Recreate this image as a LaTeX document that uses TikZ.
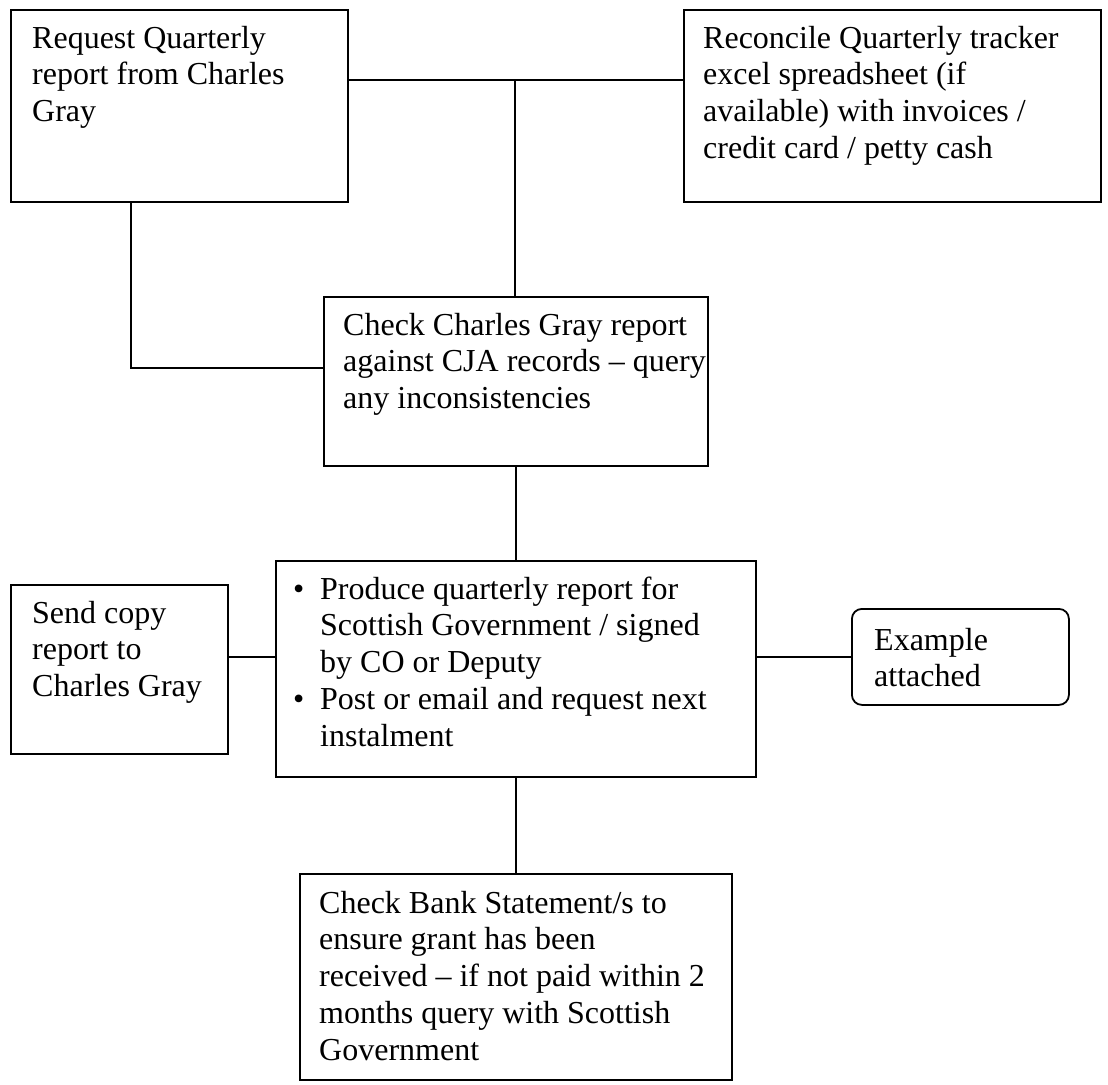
\documentclass[tikz,border=0pt]{standalone}
\usepackage{fontspec}
\setmainfont{Liberation Serif}
\usetikzlibrary{calc}
\newcommand\boxtext[1]{\parbox[t]{600pt}{\fontsize{32}{36.8}\selectfont\raggedright #1}}
\begin{document}
\begin{tikzpicture}[x=1pt,y=-1pt,
  box/.style={draw, line width=1.8pt, inner sep=0pt, anchor=north west},
  txt/.style={anchor=base west, inner sep=0pt},
  conn/.style={line width=1.8pt}]
\useasboundingbox[fill=white] (0,0) rectangle (1108,1084);
% boxes
\node[box, minimum width=337pt, minimum height=192pt] (b1) at (10,9) {};
\node[box, minimum width=417pt, minimum height=192pt] (b2) at (683,9) {};
\node[box, minimum width=384pt, minimum height=169pt] (b3) at (323,296) {};
\node[box, minimum width=480pt, minimum height=216pt] (b4) at (275,560) {};
\node[box, minimum width=217pt, minimum height=169pt] (b6) at (10,584) {};
\node[box, rounded corners=10pt, minimum width=217pt, minimum height=96pt] (b7) at (851,608) {};
\node[box, minimum width=432pt, minimum height=206pt] (b5) at (299,873) {};
% texts
\node[txt] (t1) at (32,48) {\boxtext{Request Quarterly\\report from Charles\\Gray}};
\node[txt] (t2) at (703,48) {\boxtext{Reconcile Quarterly tracker\\excel spreadsheet (if\\available) with invoices /\\credit card / petty cash}};
\node[txt] (t3) at (343,335) {\boxtext{Check Charles Gray report\\against CJA records – query\\any inconsistencies}};
\node[txt] (t4) at (293,599) {\boxtext{\makebox[27pt][l]{\textbullet}Produce quarterly report for\\
\hspace*{27pt}Scottish Government / signed\\
\hspace*{27pt}by CO or Deputy\\
\makebox[27pt][l]{\textbullet}Post or email and request next\\
\hspace*{27pt}instalment}};
\node[txt] (t6) at (32,623) {\boxtext{Send copy\\report to\\Charles Gray}};
\node[txt] (t7) at (874,650) {\boxtext{Example\\attached}};
\node[txt] (t5) at (319,913) {\boxtext{Check Bank Statement/s to\\ensure grant has been\\received – if not paid within 2\\months query with Scottish\\Government}};
% connectors
\coordinate (j1) at (515,80);
\coordinate (j2) at (131,368);
\coordinate (j3) at (0,657);
\draw[conn] (b1.east |- j1) -- (b2.west |- j1);
\draw[conn] (j1) -- (j1 |- b3.north);
\draw[conn] (b1.south -| j2) -- (j2) -- (b3.west |- j2);
\draw[conn] (b3.south) -- (b4.north);
\draw[conn] (b4.west |- j3) -- (b6.east |- j3);
\draw[conn] (b4.east |- j3) -- (b7.west |- j3);
\draw[conn] (b4.south) -- (b5.north);
\end{tikzpicture}
\end{document}
